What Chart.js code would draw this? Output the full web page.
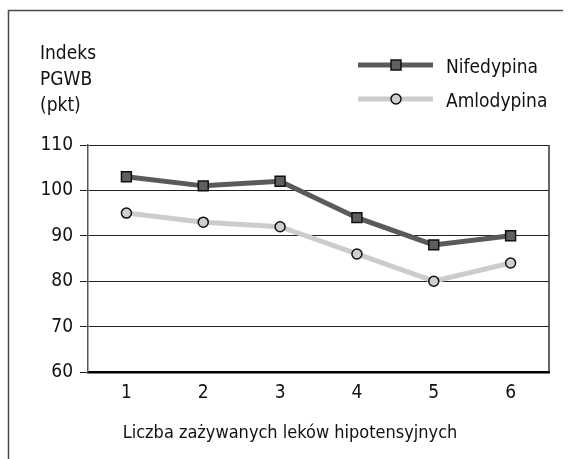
<!DOCTYPE html>
<html>
<head>
<meta charset="utf-8">
<script src="https://cdn.jsdelivr.net/npm/chart.js@4"></script>
<style>
    html, body { margin: 0; padding: 0; background: #fff; }
    #wrap { width: 572px; height: 459px; position: relative; }
</style>
</head>
<body>
<div id="wrap"><canvas id="myChart"></canvas></div>
<script>
const FONT = '"Liberation Sans Narrow", "DejaVu Sans Condensed", "Roboto", sans-serif';
const FONT_SIZE = 19;

const categories = ['1', '2', '3', '4', '5', '6'];
const nifedypina = [103, 101, 102, 94, 88, 90];
const amlodypina = [95, 93, 92, 86, 80, 84];
const y_ticks = [60, 70, 80, 90, 100, 110];
const y_title = ['Indeks', 'PGWB', '(pkt)'];
const x_title = 'Liczba zażywanych leków hipotensyjnych';

// frame, right border of plot, axis titles and the legend
const decorations = {
    id: 'decorations',
    afterDraw(chart) {
        const ctx = chart.ctx;
        const area = chart.chartArea;
        ctx.save();

        ctx.strokeStyle = '#4a4a4a';
        ctx.lineWidth = 1.5;
        ctx.beginPath();
        ctx.moveTo(8.5, 459);
        ctx.lineTo(8.5, 10.5);
        ctx.lineTo(563, 10.5);
        ctx.stroke();

        ctx.strokeStyle = '#333';
        ctx.lineWidth = 1.5;
        ctx.beginPath();
        ctx.moveTo(area.right, area.top);
        ctx.lineTo(area.right, area.bottom);
        ctx.stroke();

        ctx.fillStyle = '#111';
        ctx.font = FONT_SIZE + 'px ' + FONT;
        ctx.textAlign = 'left';
        ctx.textBaseline = 'alphabetic';
        y_title.forEach((t, i) => ctx.fillText(t, 40, 59 + i * 26));

        ctx.font = '18px ' + FONT;
        ctx.textAlign = 'center';
        ctx.fillText(x_title, 290, 438);

        ctx.font = FONT_SIZE + 'px ' + FONT;
        ctx.textAlign = 'left';
        chart.data.datasets.forEach((ds, i) => {
            const y = 65 + i * 34;
            ctx.strokeStyle = ds.borderColor;
            ctx.lineWidth = ds.borderWidth;
            ctx.beginPath();
            ctx.moveTo(358, y);
            ctx.lineTo(433, y);
            ctx.stroke();

            ctx.fillStyle = ds.pointBackgroundColor;
            ctx.strokeStyle = ds.pointBorderColor;
            ctx.lineWidth = ds.pointBorderWidth;
            ctx.beginPath();
            if (ds.pointStyle === 'rect') {
                const s = Math.SQRT1_2 * ds.pointRadius;
                ctx.rect(396 - s, y - s, 2 * s, 2 * s);
            } else {
                ctx.arc(396, y, ds.pointRadius, 0, Math.PI * 2);
            }
            ctx.fill();
            ctx.stroke();

            ctx.fillStyle = '#111';
            ctx.fillText(ds.label, 446, y + 8);
        });

        ctx.restore();
    }
};

const data = {
    labels: categories,
    datasets: [
        {
            label: 'Nifedypina',
            data: nifedypina,
            borderColor: '#5a5a5a',
            borderWidth: 5,
            pointStyle: 'rect',
            pointRadius: 7,
            pointBackgroundColor: '#5f5f5f',
            pointBorderColor: '#111',
            pointBorderWidth: 1.5,
            tension: 0
        },
        {
            label: 'Amlodypina',
            data: amlodypina,
            borderColor: '#cccccc',
            borderWidth: 5,
            pointStyle: 'circle',
            pointRadius: 5,
            pointBackgroundColor: '#cfcfcf',
            pointBorderColor: '#111',
            pointBorderWidth: 1.5,
            tension: 0
        }
    ]
};

const config = {
    type: 'line',
    data: data,
    options: {
        responsive: true,
        maintainAspectRatio: false,
        animation: false,
        layout: { padding: { top: 145, right: 23, left: 0, bottom: 0 } },
        plugins: {
            legend: { display: false },
            tooltip: { enabled: false }
        },
        scales: {
            x: {
                type: 'category',
                offset: true,
                afterFit: (scale) => { scale.height = 87; },
                grid: { display: false, drawTicks: false },
                border: { display: true, color: '#000', width: 2.5 },
                ticks: {
                    color: '#111',
                    font: { family: FONT, size: FONT_SIZE },
                    padding: 10,
                    maxRotation: 0
                }
            },
            y: {
                min: y_ticks[0],
                max: y_ticks[y_ticks.length - 1],
                afterFit: (scale) => { scale.width = 88; },
                afterBuildTicks: (scale) => { scale.ticks = y_ticks.map(v => ({ value: v })); },
                grid: {
                    color: '#222',
                    lineWidth: 1,
                    tickLength: 8,
                    drawTicks: true
                },
                border: { display: true, color: '#555', width: 1.5 },
                ticks: {
                    color: '#111',
                    font: { family: FONT, size: FONT_SIZE },
                    padding: 7
                }
            }
        }
    },
    plugins: [decorations]
};

const ctx = document.getElementById('myChart').getContext('2d');
const myChart = new Chart(ctx, config);
</script>
</body>
</html>
